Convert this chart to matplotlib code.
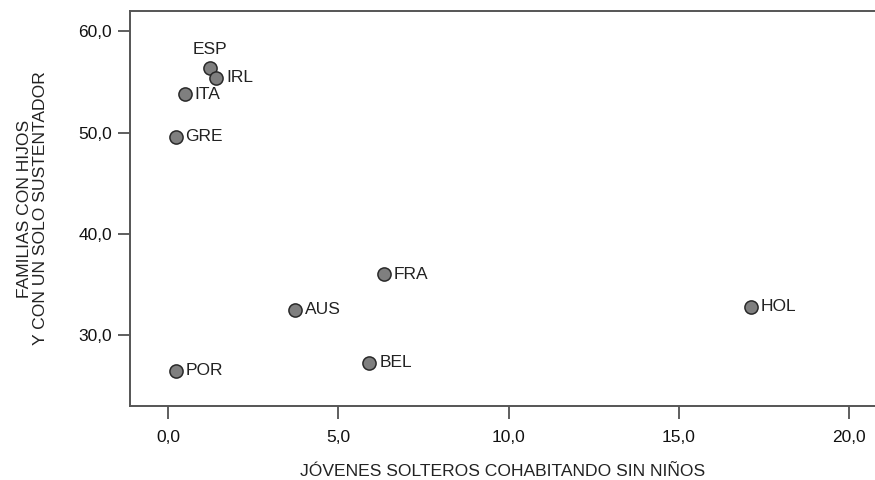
import matplotlib.pyplot as plt
from matplotlib.ticker import FuncFormatter

# --- Datos ---
paises = ['ESP', 'IRL', 'ITA', 'GRE', 'FRA', 'AUS', 'HOL', 'BEL', 'POR']
jovenes_solteros = [1.21, 1.41, 0.48, 0.22, 6.34, 3.72, 17.12, 5.91, 0.23]
familias_un_sustentador = [56.4, 55.4, 53.8, 49.6, 36.0, 32.5, 32.8, 27.3, 26.5]
x_ticks = [0, 5, 10, 15, 20]
y_ticks = [30, 40, 50, 60]

plt.rcParams['font.family'] = ['Liberation Sans', 'DejaVu Sans']

fig = plt.figure(figsize=(8.75, 4.8), dpi=100)
ax = fig.add_axes([0.1486, 0.154, 0.8514, 0.823])

ax.scatter(jovenes_solteros, familias_un_sustentador, s=90, color='#7f7f7f',
           edgecolors='#2a2a2a', linewidths=1.1, zorder=3)

# etiquetas de los países
for nombre, x, y in zip(paises, jovenes_solteros, familias_un_sustentador):
    if nombre == 'ESP':
        ax.annotate(nombre, (x, y), xytext=(0, 8), textcoords='offset points',
                    ha='center', va='bottom', fontsize=12.5, color='#222222')
    else:
        ax.annotate(nombre, (x, y), xytext=(7, 0), textcoords='offset points',
                    ha='left', va='center', fontsize=12.5, color='#222222')

ax.set_xlim(-1.126, 20.77)
ax.set_ylim(23.0, 62.0)
ax.set_xticks(x_ticks)
ax.set_yticks(y_ticks)
coma = FuncFormatter(lambda v, p: f'{v:.1f}'.replace('.', ','))
ax.xaxis.set_major_formatter(coma)
ax.yaxis.set_major_formatter(coma)
ax.tick_params(axis='both', length=9, width=1.1, color='#333333',
               labelsize=12.5, labelcolor='#111111')
ax.tick_params(axis='x', pad=8)
ax.tick_params(axis='y', pad=4)

for lado in ['left', 'bottom', 'top']:
    ax.spines[lado].set_color('#555555')
    ax.spines[lado].set_linewidth(1.4)
ax.spines['right'].set_visible(False)

ax.set_xlabel('JÓVENES SOLTEROS COHABITANDO SIN NIÑOS', fontsize=12.6,
              color='#222222', labelpad=14)
ax.set_ylabel('FAMILIAS CON HIJOS\nY CON UN SOLO SUSTENTADOR', fontsize=12.6,
              color='#222222', labelpad=22, linespacing=1.05)

fig.savefig('out.png', dpi=100)
